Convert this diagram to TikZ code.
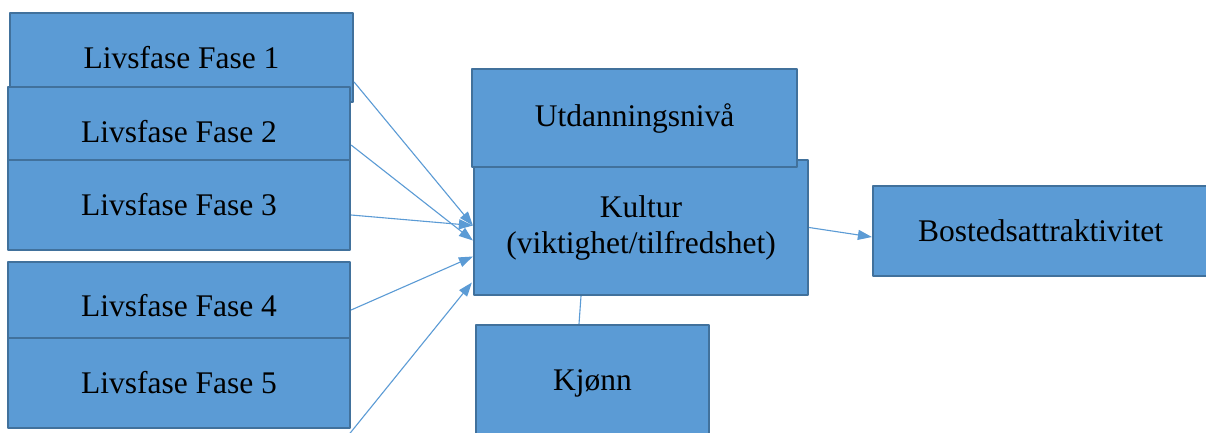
\documentclass[tikz,border=0pt]{standalone}
\usepackage{fontspec}
\setmainfont{Liberation Serif}
\usetikzlibrary{arrows.meta}
\definecolor{kulBlue}{HTML}{5B9BD5}
\definecolor{kulEdge}{HTML}{41719C}
\begin{document}
\begin{tikzpicture}[x=1pt,y=-1pt,>={Triangle[length=14pt,width=10pt]},line join=round]
\useasboundingbox[fill=white] (0,0) rectangle (1206,433);
\clip (0,0) rectangle (1206,433);
\tikzset{fasebox/.style={draw=kulEdge,fill=kulBlue,line width=2.2pt,inner sep=0pt,align=center,font=\fontsize{31.5}{36}\selectfont},link/.style={draw=kulBlue,line width=1.1pt}}
\node[fasebox,minimum width=343pt,minimum height=89pt] (f1) at (181.5,57.5) {Livsfase Fase 1};
\node[fasebox,minimum width=342pt,minimum height=90pt] (f2) at (179,132) {Livsfase Fase 2};
\node[fasebox,minimum width=342pt,minimum height=90pt] (f3) at (179,205) {Livsfase Fase 3};
\node[fasebox,minimum width=342pt,minimum height=88pt] (f4) at (179,306) {Livsfase Fase 4};
\node[fasebox,minimum width=342pt,minimum height=90pt] (f5) at (179,383) {Livsfase Fase 5};
\node[fasebox,minimum width=334pt,minimum height=135pt] (kultur) at (641,227.5) {Kultur\\(viktighet/tilfredshet)};
\node[fasebox,minimum width=325pt,minimum height=98pt] (utd) at (634.5,118) {Utdanningsnivå};
\node[fasebox,minimum width=233pt,minimum height=116pt] (kjonn) at (592.5,383) {Kjønn};
\node[fasebox,minimum width=335pt,minimum height=90pt] (bosted) at (1040.5,231) {Bostedsattraktivitet};
% arrows into Kultur
\draw[link,->] ([yshift=-24.5pt]f1.east) -- ([yshift=2pt]kultur.west);
\draw[link,->] ([yshift=-13pt]f2.east) -- ([yshift=-13pt]kultur.west);
\draw[link,->] ([yshift=-10pt]f3.east) -- ([yshift=2pt]kultur.west);
\draw[link,->] ([yshift=-4pt]f4.east) -- ([yshift=-29pt]kultur.west);
\draw[link,->] ([xshift=-9pt,yshift=-60pt]f5.east) -- ([xshift=-1pt,yshift=-55pt]kultur.west);
\draw[link] ([xshift=-60pt]kultur.south) -- ([xshift=-13.5pt]kjonn.north);
\draw[link,->] (kultur.east) -- ([yshift=-6pt]bosted.west);
\end{tikzpicture}
\end{document}
